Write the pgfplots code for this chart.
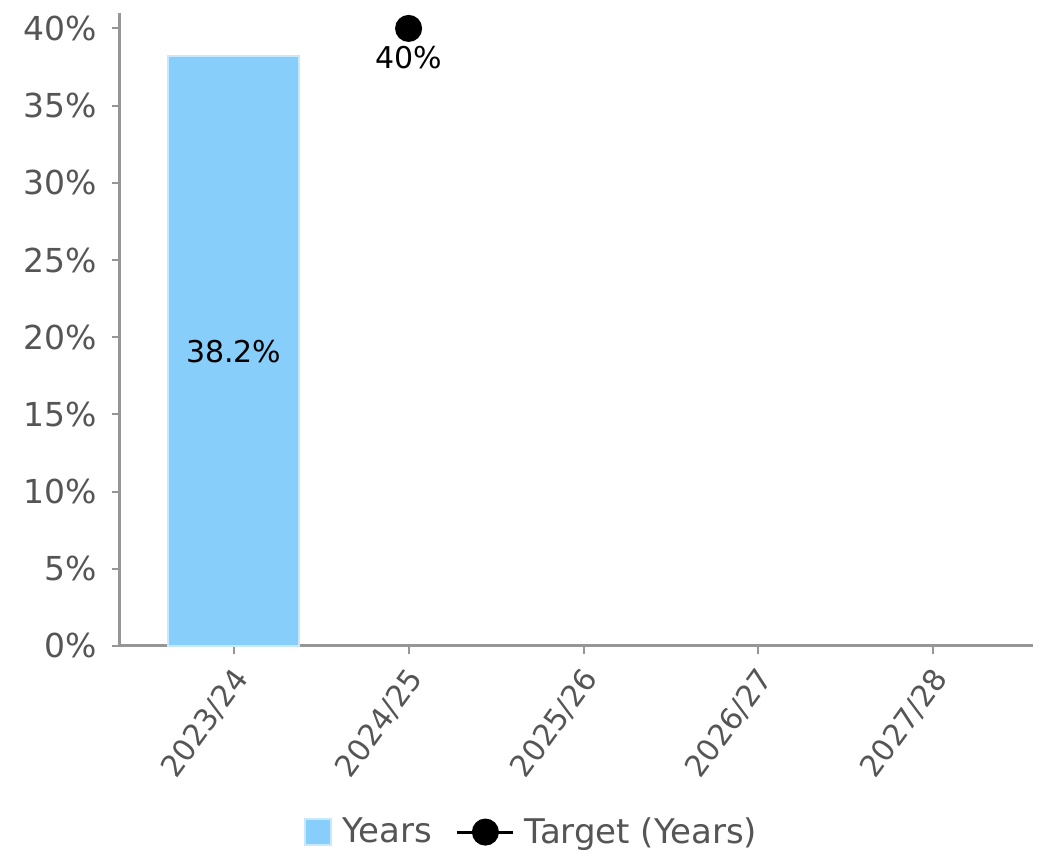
\documentclass[border=0pt]{standalone}
\usepackage{pgfplots}
\pgfplotsset{compat=1.18}
\usepackage{fontspec}
\setmainfont{DejaVu Sans}
\definecolor{barfill}{RGB}{135,206,250}
\definecolor{baredge}{RGB}{200,232,255}
\definecolor{axgray}{RGB}{150,150,150}
\definecolor{txtgray}{RGB}{85,85,85}
\begin{document}
\begin{tikzpicture}
\begin{axis}[
  name=ax,
  scale only axis, width=456.5pt, height=316.5pt,
  xmin=-0.65, xmax=4.57, ymin=0, ymax=41,
  axis x line*=bottom, axis y line*=left,
  axis line style={axgray, line width=1.5pt},
  xtick={0,1,2,3,4},
  xticklabels={2023/24,2024/25,2025/26,2026/27,2027/28},
  ytick={0,5,...,40},
  yticklabel={\pgfmathprintnumber{\tick}\%},
  /pgf/number format/assume math mode=true,
  tick style={axgray, line width=1pt},
  tick align=outside, major tick length=4pt,
  ticklabel style={text=txtgray},
  x tick label style={font=\fontsize{15}{17}\selectfont, anchor=north east, xshift=-2pt, yshift=-1pt, rotate=54},
  y tick label style={font=\fontsize{16.5}{18}\selectfont, xshift=-4pt},
  clip=false,
  legend style={at={(0.452,-0.294)}, anchor=center, draw=none, legend columns=2,
    font=\fontsize{17}{19}\selectfont, text=txtgray,
    /tikz/every odd column/.append style={column sep=3pt},
    /tikz/every even column/.append style={column sep=10pt}},
]
\addplot[ybar, bar width=0.75, fill=barfill, draw=baredge, line width=1pt,
  area legend,
  legend image code/.code={\draw[fill=barfill, draw=baredge, line width=1pt] (0pt,-6.5pt) rectangle (13pt,6.5pt);}]
  coordinates {(0,38.2)};
\addlegendentry{Years}
\addplot[black, mark=*, mark size=6pt, line width=1.5pt,
  legend image code/.code={\draw[black, line width=1.5pt] (0pt,0pt) -- (28pt,0pt); \fill[black] (14pt,0pt) circle (6pt);},
  nodes near coords={40\%},
  every node near coord/.style={anchor=north, yshift=-5pt, font=\fontsize{15}{17}\selectfont, text=black}]
  coordinates {(1,40)};
\addlegendentry{Target (Years)}
\addplot[draw=none, mark=none, nodes near coords, point meta=explicit symbolic,
  every node near coord/.style={anchor=center, font=\fontsize{15}{17}\selectfont, text=black},
  forget plot]
  coordinates {(0,19.1) [38.2\%]};
\end{axis}
\path ([xshift=-60pt,yshift=-106pt]ax.south west) rectangle ([xshift=8.5pt,yshift=6.5pt]ax.north east);
\end{tikzpicture}
\end{document}
